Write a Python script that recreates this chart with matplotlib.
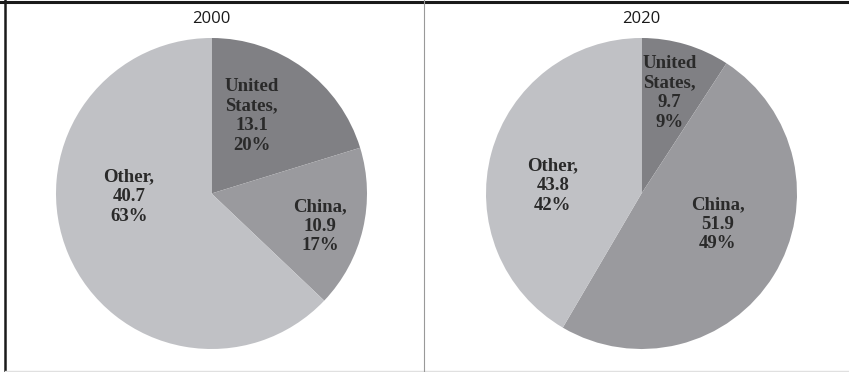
import matplotlib
matplotlib.use('Agg')
import matplotlib.pyplot as plt
from matplotlib.lines import Line2D

# Data
years = ['2000', '2020']
countries = ['United States', 'China', 'Other']
values_2000 = [13.1, 10.9, 40.7]
values_2020 = [9.7, 51.9, 43.8]
pcts_2000 = ['20%', '17%', '63%']
pcts_2020 = ['9%', '49%', '42%']

colors = ['#808084', '#9a9a9e', '#c0c1c5']

# label positions (fraction of radius) for each wedge
label_pos_2000 = [(0.257, 0.50), (0.70, -0.21), (-0.53, -0.02)]
label_pos_2020 = [(0.18, 0.647), (0.49, -0.198), (-0.57, 0.05)]

fig = plt.figure(figsize=(8.49, 3.72), dpi=100)

panels = [
    (years[0], values_2000, pcts_2000, label_pos_2000, 56),
    (years[1], values_2020, pcts_2020, label_pos_2020, 486),
]

for year, vals, pcts, lpos, x0 in panels:
    ax = fig.add_axes([x0 / 849, 23 / 372, 311 / 849, 311 / 372])
    ax.pie(vals, colors=colors, startangle=90, counterclock=False,
           radius=1.0, wedgeprops=dict(linewidth=0))
    ax.set_xlim(-1, 1)
    ax.set_ylim(-1, 1)
    ax.set_aspect('equal')
    ax.axis('off')
    for name, v, p, (lx, ly) in zip(countries, vals, pcts, lpos):
        name_txt = name.replace(' ', '\n') + ','
        ax.text(lx, ly, f'{name_txt}\n{v}\n{p}', ha='center', va='center',
                fontsize=13.5, fontweight='bold', family='Liberation Serif',
                color='#2a2a2a', linespacing=1.2)
    fig.text((x0 + 155.5) / 849, 1 - 19 / 372, year, ha='center', va='center',
             fontsize=12, family='Open Sans', color='#1a1a1a')

# panel borders
fig.add_artist(Line2D([0, 1], [1 - 2 / 372, 1 - 2 / 372], color='#1a1a1a', lw=2.2))
fig.add_artist(Line2D([5 / 849, 5 / 849], [0, 1], color='#1a1a1a', lw=1.8))
fig.add_artist(Line2D([5 / 849, 1], [1.5 / 372, 1.5 / 372], color='#e0e0e0', lw=1))
fig.add_artist(Line2D([423.5 / 849, 423.5 / 849], [0, 1], color='#999999', lw=0.8))

fig.savefig('out.png', dpi=100, facecolor='white')
